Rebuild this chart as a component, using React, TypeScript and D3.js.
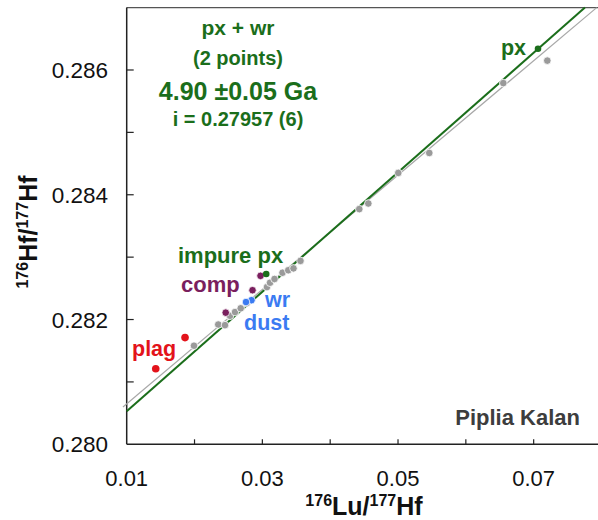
import React, { useEffect, useRef } from "react";
import * as d3 from "d3";

// 176Lu/177Hf vs 176Hf/177Hf, Piplia Kalan
const grayLu = [0.01992, 0.0235, 0.02449, 0.02523, 0.02597, 0.02681, 0.02769, 0.03068, 0.03113, 0.03179, 0.03297, 0.03382, 0.03459, 0.03562, 0.04429, 0.04562, 0.05004, 0.05461, 0.06552, 0.07201];
const grayHf = [0.28158, 0.28192, 0.28191, 0.28206, 0.28212, 0.28218, 0.28226, 0.28252, 0.28259, 0.28265, 0.28275, 0.28279, 0.28282, 0.28294, 0.28377, 0.28386, 0.28435, 0.28467, 0.28579, 0.28615];

const plagLu = [0.0186, 0.01428];
const plagHf = [0.28171, 0.28121];
const compLu = [0.02973, 0.02855, 0.0246];
const compHf = [0.2827, 0.28247, 0.28211];
const wrLu = [0.0284, 0.02759];
const wrHf = [0.28231, 0.28228];
const pxLu = [0.03057, 0.07064];
const pxHf = [0.28273, 0.28634];

// isochrons: [intercept, slope]
const isoGreen = [0.27957, 0.0958];
const isoGray = [0.279732, 0.09167];

const xTicks = [0.01, 0.02, 0.03, 0.04, 0.05, 0.06, 0.07];
const xLabels = [0.01, 0.03, 0.05, 0.07];
const yTicks = [0.28, 0.281, 0.282, 0.283, 0.284, 0.285, 0.286];
const yLabels = [0.28, 0.282, 0.284, 0.286];

const GREEN = "#1b6e1b";
const PURPLE = "#7a1f5e";
const RED = "#e3131b";
const BLUE = "#3b7bf2";
const FONT = "Liberation Sans, Arial, sans-serif";

export default function App() {
  const ref = useRef<SVGSVGElement>(null);

  useEffect(() => {
    const svg = d3.select(ref.current);
    svg.selectAll("*").remove();

    const x = d3.scaleLinear().domain([0.01, 0.08]).range([126.7, 601.5]);
    const y = d3.scaleLinear().domain([0.28, 0.287]).range([444.3, 7.6]);
    const yTop = 0.287;

    // frame
    svg.append("line")
      .attr("x1", x(0.01)).attr("x2", 598)
      .attr("y1", y(yTop)).attr("y2", y(yTop))
      .attr("stroke", "#555").attr("stroke-width", 1.2);
    svg.append("line")
      .attr("x1", x(0.01)).attr("x2", x(0.01))
      .attr("y1", y(yTop)).attr("y2", y(0.28))
      .attr("stroke", "#222").attr("stroke-width", 1.5);
    svg.append("line")
      .attr("x1", x(0.01)).attr("x2", 598)
      .attr("y1", y(0.28)).attr("y2", y(0.28))
      .attr("stroke", "#222").attr("stroke-width", 1.5);

    // ticks (inward)
    svg.selectAll(".xt").data(xTicks.slice(1)).enter().append("line")
      .attr("x1", (d) => x(d)).attr("x2", (d) => x(d))
      .attr("y1", y(0.28)).attr("y2", y(0.28) - 5)
      .attr("stroke", "#222").attr("stroke-width", 1.2);
    svg.selectAll(".yt").data(yTicks.slice(1)).enter().append("line")
      .attr("x1", x(0.01)).attr("x2", x(0.01) + 7)
      .attr("y1", (d) => y(d)).attr("y2", (d) => y(d))
      .attr("stroke", "#222").attr("stroke-width", 1.2);

    svg.selectAll(".xl").data(xLabels).enter().append("text")
      .attr("x", (d) => x(d)).attr("y", 486)
      .attr("text-anchor", "middle")
      .attr("font-family", FONT).attr("font-size", 22)
      .attr("fill", "#111")
      .text((d) => d3.format(".2f")(d));
    svg.selectAll(".yl").data(yLabels).enter().append("text")
      .attr("x", 108).attr("y", (d) => y(d) + 8)
      .attr("text-anchor", "end")
      .attr("font-family", FONT).attr("font-size", 22.5)
      .attr("fill", "#111")
      .text((d) => d3.format(".3f")(d));

    // axis titles
    const xt = svg.append("text")
      .attr("x", 364).attr("y", 515)
      .attr("text-anchor", "middle")
      .attr("font-family", FONT).attr("font-weight", "bold")
      .attr("font-size", 25).attr("fill", "#111");
    xt.append("tspan").attr("font-size", 16).attr("dy", -9).text("176");
    xt.append("tspan").attr("dy", 9).text("Lu/");
    xt.append("tspan").attr("font-size", 16).attr("dy", -9).text("177");
    xt.append("tspan").attr("dy", 9).text("Hf");

    const yt = svg.append("text")
      .attr("transform", "translate(37,232) rotate(-90)")
      .attr("text-anchor", "middle")
      .attr("font-family", FONT).attr("font-weight", "bold")
      .attr("font-size", 25).attr("fill", "#111");
    yt.append("tspan").attr("font-size", 16).attr("dy", -9).text("176");
    yt.append("tspan").attr("dy", 9).text("Hf/");
    yt.append("tspan").attr("font-size", 16).attr("dy", -9).text("177");
    yt.append("tspan").attr("dy", 9).text("Hf");

    // isochron lines
    const iso = (p: number[], x0: number, color: string, w: number) => {
      const x1 = (yTop - p[0]) / p[1];
      svg.append("line")
        .attr("x1", x(x0)).attr("y1", y(p[0] + p[1] * x0))
        .attr("x2", x(x1)).attr("y2", y(yTop))
        .attr("stroke", color).attr("stroke-width", w);
    };
    iso(isoGray, 0.00945, "#a8a8a8", 1.2);
    iso(isoGreen, 0.01, GREEN, 2);

    const dots = (lu: number[], hf: number[], color: string, r: number, stroke: string) => {
      svg.append("g").selectAll("circle").data(lu).enter().append("circle")
        .attr("cx", (d) => x(d))
        .attr("cy", (d, i) => y(hf[i]))
        .attr("r", r)
        .attr("fill", color)
        .attr("stroke", stroke)
        .attr("stroke-width", 0.8);
    };
    dots(grayLu, grayHf, "#9a9a9a", 3.8, "#fff");
    dots(plagLu, plagHf, RED, 3.8, "none");
    dots(compLu, compHf, PURPLE, 3.8, "#fff");
    dots(wrLu, wrHf, BLUE, 3.8, "#fff");
    dots(pxLu, pxHf, GREEN, 3.3, "none");

    const label = (t: string, lx: number, ly: number, color: string, size: number, anchor = "start") => {
      svg.append("text")
        .attr("x", lx).attr("y", ly)
        .attr("text-anchor", anchor)
        .attr("font-family", FONT).attr("font-weight", "bold")
        .attr("font-size", size).attr("fill", color)
        .text(t);
    };
    label("px + wr", 238, 35, GREEN, 21, "middle");
    label("(2 points)", 238, 65, GREEN, 20, "middle");
    label("4.90 \u00b10.05 Ga", 238, 100, GREEN, 25, "middle");
    label("i = 0.27957 (6)", 238, 126, GREEN, 20, "middle");

    label("px", 526, 55, GREEN, 21.5, "end");
    label("impure px", 178, 263, GREEN, 22);
    label("comp", 181, 292, PURPLE, 22);
    label("wr", 265, 307, BLUE, 21.5);
    label("dust", 244, 330, BLUE, 21.5);
    label("plag", 132, 356, RED, 21.5);
    label("Piplia Kalan", 580, 425, "#3d3d3d", 22, "end");
  }, []);

  return (
    <div style={{ position: "absolute", left: 0, top: 0 }}>
      <svg ref={ref} width={598} height={520} style={{ display: "block", background: "#fff" }} />
    </div>
  );
}
